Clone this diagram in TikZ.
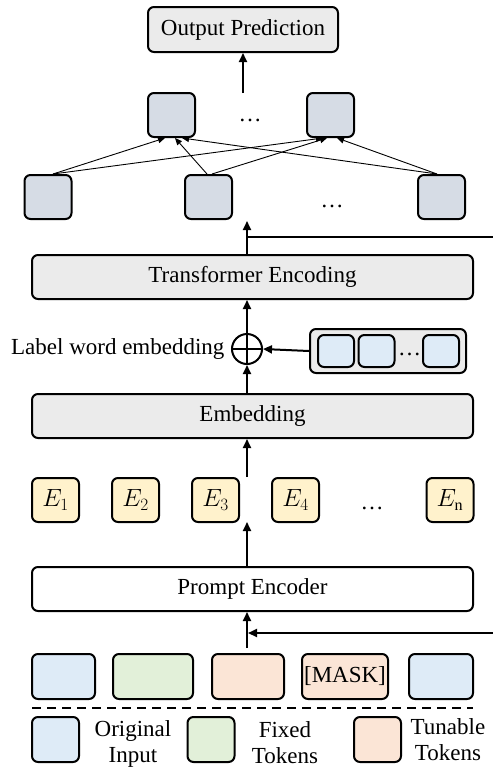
\documentclass[tikz,border=0pt]{standalone}
\usepackage{fontspec}
\setmainfont{Liberation Serif}
\usetikzlibrary{arrows.meta}
\definecolor{c1}{HTML}{000000}
\definecolor{gray1}{HTML}{EBEBEB}
\definecolor{slate}{HTML}{D6DCE5}
\definecolor{inblue}{HTML}{DEEBF7}
\definecolor{fixgreen}{HTML}{E2F0D9}
\definecolor{tunpink}{HTML}{FBE5D6}
\definecolor{embyel}{HTML}{FFF2CC}

\begin{document}
\begin{tikzpicture}[x=1pt, y=-1pt,
    every node/.style={font=\fontsize{23}{26}\selectfont},
    blk/.style={draw=c1, line width=2pt, rounded corners=6pt, inner sep=0pt, align=center},
    wide/.style={blk, minimum width=441pt, minimum height=44pt},
    unit/.style={blk, fill=slate, minimum width=47pt, minimum height=44pt},
    emb/.style={blk, fill=embyel, minimum width=47pt, minimum height=44pt},
    tok/.style={blk, minimum height=45pt},
    flow/.style={c1, line width=2pt, -{Triangle[length=9pt, width=8pt]}},
    link/.style={c1, line width=0.9pt, -{Triangle[length=7pt, width=6pt]}},
]
\useasboundingbox (0,0) rectangle (493,769);

% ---------------- output side
\node[blk, fill=gray1, minimum width=190pt, minimum height=45pt] (out) at (243,29.5) {Output Prediction};
\node[unit] (u1) at (171.5,115) {};
\node[unit] (u2) at (330.5,115) {};
\node (udots) at (250,120) {\dots};
\node[unit] (l1) at (48,197) {};
\node[unit] (l2) at (208.5,197) {};
\node[unit] (l3) at (441.5,197) {};
\node (ldots) at (332,206) {\dots};

\coordinate (upTop) at (243,93);
\draw[flow] (upTop) -- (out.south);
\foreach \a/\b/\s/\e in {l1/u1/5/-6.5, l2/u1/-1.5/3.5, l3/u1/-4.5/10.5,
                         l1/u2/5/-7.5, l2/u2/3.5/-3.5, l3/u2/-4.5/6.5}{
    \draw[link] ([xshift=\s pt]\a.north) -- ([xshift=\e pt]\b.south);
}

% ---------------- encoder
\node[wide, fill=gray1] (tf) at (252.5,277) {Transformer Encoding};
\coordinate (tfOut) at (247,221);
\coordinate (skipTop) at (493,237);
\draw[flow] (tf.north -| tfOut) -- (tfOut);
\draw[c1, line width=2pt] (skipTop) -- (skipTop -| tfOut);

% label words
\node[circle, draw=c1, line width=2pt, minimum size=30pt, inner sep=0pt] (plus) at (247,349) {};
\draw[c1, line width=2pt] (plus.north) -- (plus.south) (plus.west) -- (plus.east);
\node[anchor=east] (lwtxt) at (228,349) {Label word embedding};
\node[blk, fill=gray1, minimum width=156pt, minimum height=44pt] (lw) at (388,351) {};
\foreach \n/\x in {w1/336, w2/376.5, w3/441}{
    \node[blk, fill=inblue, minimum width=36pt, minimum height=32pt] (\n) at (\x,351) {};
}
\node (wdots) at (409.5,354) {\dots};

\node[wide, fill=gray1] (em) at (252.5,416) {Embedding};
\draw[flow] (em.north -| plus) -- (plus.south);
\draw[flow] (plus.north) -- (tf.south -| plus);
\draw[flow] (lw.west) -- (plus.east);

% ---------------- prompt embeddings
\foreach \n/\x/\t in {e1/55.5/{$E_1$}, e2/135.5/{$E_2$}, e3/215.5/{$E_3$}, e4/295.5/{$E_4$}, en/450/{$E_{\mathrm{n}}$}}{
    \node[emb] (\n) at (\x,500) {\t};
}
\node (edots) at (372,508) {\dots};
\coordinate (eTop) at (247,477);
\coordinate (eBot) at (247,522);
\draw[flow] (eTop) -- (em.south -| eTop);

\node[wide, fill=white] (pe) at (252.5,589) {Prompt Encoder};
\draw[flow] (pe.north -| eBot) -- (eBot);

% ---------------- input tokens
\node[tok, fill=inblue, minimum width=63pt] (i1) at (63.5,676.5) {};
\node[tok, fill=fixgreen, minimum width=80pt] (i2) at (153,676.5) {};
\node[tok, fill=tunpink, minimum width=72pt] (i3) at (248,676.5) {};
\node[tok, fill=tunpink, minimum width=86pt] (i4) at (345,676.5) {[MASK]};
\node[tok, fill=inblue, minimum width=64pt] (i5) at (441,676.5) {};
\coordinate (inTop) at (247,648);
\coordinate (skipBot) at (493,633);
\draw[flow] (inTop) -- (pe.south -| inTop);
\draw[flow] (skipBot) -- ([xshift=1pt]skipBot -| inTop);

% ---------------- legend
\draw[c1, line width=2pt, dash pattern=on 9pt off 6pt] (32,708) -- (473,708);
\foreach \n/\x/\c in {k1/55.5/inblue, k2/211/fixgreen, k3/377.5/tunpink}{
    \node[blk, fill=\c, minimum width=47pt, minimum height=45pt] (\n) at (\x,739.5) {};
}
\node[align=center] (k1txt) at (133,744) {Original\\Input};
\node[align=center] (k2txt) at (285,743) {Fixed\\Tokens};
\node[align=center] (k3txt) at (448,740) {Tunable\\Tokens};
\end{tikzpicture}
\end{document}
